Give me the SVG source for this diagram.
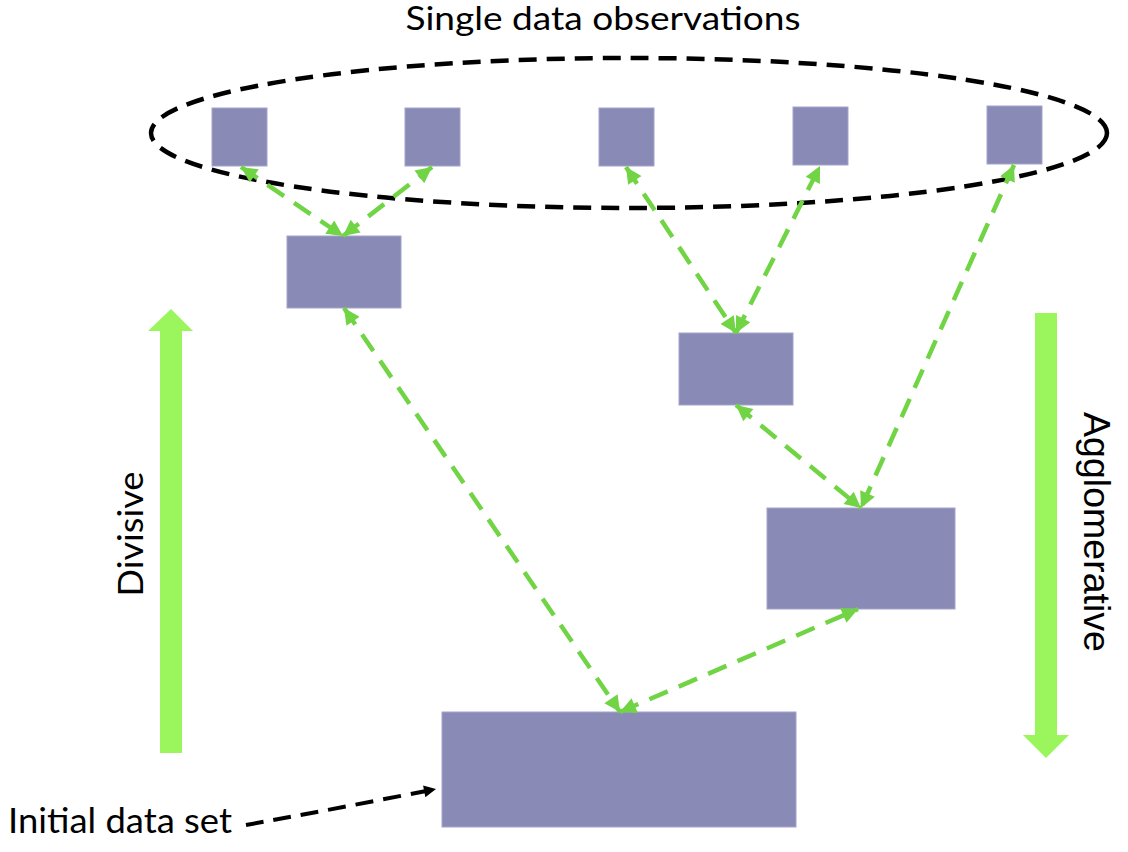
<svg xmlns="http://www.w3.org/2000/svg" width="1128" height="852" viewBox="0 0 1128 852">
<defs>
<style>
.node{fill:#8a8ab6;stroke:#a3a3cc;stroke-width:1}
.conn{fill:none;stroke:#70d444;stroke-width:4.5;stroke-dasharray:20 12}
.lbl{font-family:Lato,"Open Sans",sans-serif;fill:#000}
.big{fill:#9af65c}
</style>
<marker id="gh" viewBox="0 0 10 10" refX="10" refY="5" markerUnits="userSpaceOnUse" markerWidth="18" markerHeight="16" orient="auto-start-reverse">
<path d="M0 0 L10 5 L0 10 Z" fill="#70d444"/>
</marker>
<marker id="bh" viewBox="0 0 10 10" refX="10" refY="5" markerUnits="userSpaceOnUse" markerWidth="14" markerHeight="12" orient="auto">
<path d="M0 0 L10 5 L0 10 Z" fill="#000"/>
</marker>
</defs>
<rect width="1128" height="852" fill="#fff"/>

<text class="lbl" x="603" y="30" font-size="32" text-anchor="middle" textLength="395" lengthAdjust="spacingAndGlyphs">Single data observations</text>
<ellipse cx="629" cy="133" rx="478" ry="75" fill="none" stroke="#000" stroke-width="4.5" stroke-dasharray="18 10"/>

<g id="leaf1"><rect class="node" x="212" y="108" width="55" height="58"/></g>
<g id="leaf2"><rect class="node" x="405" y="108" width="55" height="58"/></g>
<g id="leaf3"><rect class="node" x="599" y="108" width="55" height="58"/></g>
<g id="leaf4"><rect class="node" x="793" y="107" width="55" height="58"/></g>
<g id="leaf5"><rect class="node" x="987" y="106" width="55" height="58"/></g>
<g id="clusterA"><rect class="node" x="287" y="236" width="114" height="72"/></g>
<g id="clusterB"><rect class="node" x="679" y="333" width="114" height="72"/></g>
<g id="clusterC"><rect class="node" x="767" y="508" width="188" height="101"/></g>
<g id="root"><rect class="node" x="442" y="712" width="354" height="115"/></g>

<g id="connectors">
<line class="conn" x1="241" y1="167" x2="343" y2="236" marker-start="url(#gh)" marker-end="url(#gh)"/>
<line class="conn" x1="343" y1="236" x2="432" y2="167" marker-start="url(#gh)" marker-end="url(#gh)"/>
<line class="conn" x1="626" y1="167" x2="736" y2="333" marker-start="url(#gh)" marker-end="url(#gh)"/>
<line class="conn" x1="736" y1="333" x2="820" y2="166" marker-start="url(#gh)" marker-end="url(#gh)"/>
<line class="conn" x1="1014" y1="165" x2="861" y2="508" marker-start="url(#gh)" marker-end="url(#gh)"/>
<line class="conn" x1="736" y1="405" x2="861" y2="508" marker-start="url(#gh)" marker-end="url(#gh)"/>
<line class="conn" x1="344" y1="308" x2="620" y2="712" marker-start="url(#gh)" marker-end="url(#gh)"/>
<line class="conn" x1="620" y1="712" x2="858" y2="609" marker-start="url(#gh)" marker-end="url(#gh)"/>
<path d="M246 825 Q340 808 436 789" fill="none" stroke="#000" stroke-width="4" stroke-dasharray="18 10" marker-end="url(#bh)"/>
</g>

<g id="divisive">
<path class="big" d="M160 753 L182 753 L182 331 L193 331 L171 309 L148 331 L160 331 Z"/>
<text class="lbl" transform="translate(143,534) rotate(-90)" font-size="34" text-anchor="middle" textLength="125" lengthAdjust="spacingAndGlyphs">Divisive</text>
</g>
<g id="agglomerative">
<path class="big" d="M1035 313 L1057 313 L1057 735 L1069 735 L1046 758 L1023 735 L1035 735 Z"/>
<text transform="translate(1084,532) rotate(90)" font-family="'Liberation Sans',Arial,sans-serif" font-size="37" text-anchor="middle" textLength="240" lengthAdjust="spacingAndGlyphs">Agglomerative</text>
</g>

<text class="lbl" x="8" y="833" font-size="34" textLength="224" lengthAdjust="spacingAndGlyphs">Initial data set</text>
</svg>
